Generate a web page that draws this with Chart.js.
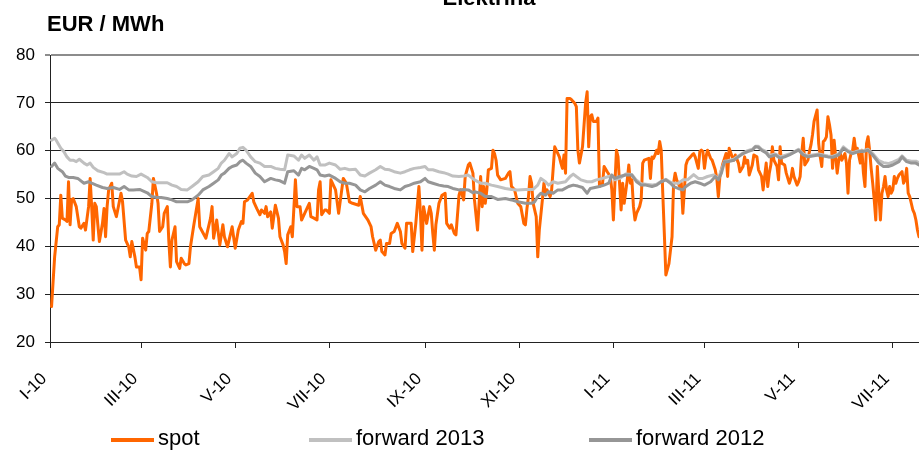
<!DOCTYPE html>
<html>
<head>
<meta charset="utf-8">
<script src="https://cdn.jsdelivr.net/npm/chart.js@4.4.0/dist/chart.umd.min.js"></script>
<style>
body { margin: 0; background: #fff; font-family: 'Liberation Sans', Arial, sans-serif; }
#wrap { position: relative; width: 919px; height: 451px; overflow: hidden; }
#title { position: absolute; left: 389px; width: 200px; top: -13px; line-height: 22px; text-align: center; font-weight: bold; font-size: 22px; }
#unit { position: absolute; left: 47px; top: 13px; line-height: 22px; font-weight: bold; font-size: 22px; }
.lg-line { position: absolute; height: 4px; width: 43px; top: 438px; }
.lg-text { position: absolute; top: 427px; line-height: 22px; font-size: 22px; }
</style>
</head>
<body>
<div id="wrap">
  <canvas id="myChart"></canvas>
  <div id="title">Elektrina</div>
  <div id="unit">EUR / MWh</div>
  <div id="legend"></div>
</div>
<script>
// days since 1 Jan 2010
const tickDays = [0, 59, 120, 181, 243, 304, 365, 424, 485, 546]
const tickLabels = ['I-10', 'III-10', 'V-10', 'VII-10', 'IX-10', 'XI-10', 'I-11', 'III-11', 'V-11', 'VII-11']

const spot = [[1,27.4],[3,37.8],[5,44.1],[6,44.5],[7,50.7],[8,45.9],[10,45.5],[11,45.2],[12,53.5],[13,44.5],[14,49.7],[15,50.0],[17,48.3],[19,44.1],[20,43.8],[22,44.8],[23,43.4],[25,48.3],[26,54.2],[27,48.3],[28,41.3],[29,49.0],[30,48.3],[31,44.5],[32,41.0],[34,44.8],[35,47.9],[36,42.0],[37,48.3],[38,51.8],[40,53.2],[41,48.3],[43,46.2],[46,51.1],[47,49.3],[49,41.3],[51,39.9],[52,37.8],[53,41.0],[55,37.8],[56,35.7],[58,35.7],[59,33.0],[60,41.7],[62,39.2],[63,42.7],[64,43.1],[66,49.0],[67,54.2],[69,51.1],[70,49.0],[71,43.1],[73,44.1],[74,46.9],[76,48.3],[77,41.0],[78,35.7],[79,41.3],[81,44.1],[82,36.8],[84,35.4],[85,37.5],[87,36.4],[88,36.1],[90,36.4],[91,39.9],[93,44.1],[96,50.0],[97,44.1],[101,41.7],[104,45.9],[105,48.3],[106,41.7],[108,45.5],[110,40.3],[112,44.5],[113,42.0],[115,39.9],[118,44.1],[120,39.6],[122,43.4],[124,45.2],[125,44.8],[126,49.3],[128,49.7],[131,51.1],[132,49.3],[134,47.9],[136,46.6],[137,47.6],[139,46.9],[140,48.3],[141,46.2],[143,47.2],[144,43.8],[146,48.6],[148,45.9],[149,42.0],[151,40.3],[152,38.9],[153,36.4],[154,42.4],[156,44.1],[157,42.0],[159,53.9],[160,48.3],[162,48.3],[163,45.5],[165,46.9],[168,49.0],[169,46.2],[171,45.9],[173,45.5],[174,51.8],[175,53.5],[176,46.6],[178,47.6],[179,47.6],[181,46.9],[182,53.9],[185,51.8],[187,46.9],[190,54.2],[192,53.2],[194,49.3],[196,49.0],[200,48.6],[201,50.4],[203,46.9],[206,45.5],[208,44.1],[209,42.0],[211,39.2],[213,41.0],[214,41.3],[215,38.9],[217,38.2],[218,40.6],[220,40.6],[221,42.7],[223,43.1],[225,44.8],[227,43.1],[228,40.6],[230,39.6],[231,44.8],[234,44.8],[235,38.9],[237,44.8],[239,52.5],[240,46.9],[241,39.2],[242,48.3],[244,44.8],[246,48.3],[247,46.9],[248,42.7],[249,39.2],[250,44.5],[252,49.0],[254,50.7],[256,51.1],[257,44.8],[259,43.8],[260,44.5],[262,42.7],[263,42.4],[265,50.7],[266,51.8],[268,49.7],[269,54.6],[271,57.0],[272,57.4],[274,55.3],[275,49.7],[277,43.4],[279,54.6],[280,48.3],[281,52.5],[282,49.0],[283,51.8],[284,56.0],[286,56.3],[287,60.1],[288,59.4],[289,58.0],[290,54.9],[292,53.9],[295,54.2],[297,55.3],[298,55.6],[299,52.5],[301,51.8],[303,49.0],[305,48.3],[307,44.8],[308,44.5],[309,47.9],[310,50.4],[311,54.6],[312,53.2],[313,49.0],[315,46.2],[316,37.8],[317,43.4],[319,49.7],[320,53.2],[321,51.1],[322,51.8],[324,50.4],[325,51.8],[327,60.8],[328,60.1],[330,58.7],[331,57.4],[332,56.3],[333,59.1],[334,55.3],[335,70.9],[337,70.9],[338,70.6],[340,69.9],[341,69.2],[342,60.1],[343,57.4],[345,60.8],[346,65.4],[347,69.9],[348,72.3],[349,60.8],[350,67.1],[351,67.5],[352,66.1],[354,66.1],[355,66.8],[356,52.5],[358,53.2],[359,56.7],[361,55.6],[363,54.6],[364,51.8],[365,45.5],[366,53.2],[367,60.1],[368,58.7],[370,47.6],[371,53.2],[372,49.0],[374,53.9],[375,57.0],[376,53.2],[377,53.9],[378,48.3],[379,45.5],[380,46.9],[382,48.3],[383,49.7],[384,57.4],[385,58.0],[388,58.4],[389,54.2],[390,58.7],[391,58.4],[392,59.1],[393,60.1],[394,59.4],[395,61.9],[396,60.1],[397,51.1],[398,42.7],[399,34.0],[401,36.4],[402,39.2],[403,42.0],[404,53.2],[405,55.3],[406,53.9],[408,52.5],[409,53.2],[410,46.9],[411,51.8],[412,57.0],[413,58.0],[415,58.7],[416,59.1],[417,59.4],[418,58.7],[420,56.3],[421,59.8],[422,60.1],[423,59.8],[424,56.3],[425,58.7],[426,60.1],[428,58.4],[429,58.0],[431,56.0],[432,54.2],[433,50.4],[434,54.6],[436,57.4],[438,59.4],[439,54.6],[440,60.5],[442,58.7],[443,58.0],[444,59.1],[446,57.4],[447,55.6],[449,56.7],[450,58.7],[451,57.4],[452,58.0],[453,54.9],[455,57.0],[456,59.1],[458,58.7],[459,56.0],[460,55.3],[461,54.6],[462,51.8],[463,54.6],[464,57.4],[465,52.5],[466,55.3],[467,57.0],[468,60.8],[469,58.0],[471,56.7],[472,53.9],[473,60.8],[474,57.4],[476,57.0],[477,55.3],[479,53.2],[480,54.2],[481,56.3],[482,54.6],[484,52.8],[485,53.5],[486,54.6],[487,59.4],[488,62.6],[489,57.0],[491,58.0],[492,59.8],[493,61.2],[494,63.3],[495,66.1],[497,68.5],[498,61.5],[499,58.7],[500,56.7],[501,61.9],[502,62.2],[503,62.9],[504,67.1],[505,65.4],[506,63.3],[507,56.3],[508,62.2],[510,55.3],[511,58.0],[512,59.4],[513,58.0],[515,59.4],[516,57.4],[517,51.1],[518,58.0],[519,59.4],[520,60.1],[521,62.6],[522,60.1],[523,60.5],[525,57.4],[526,60.1],[527,55.3],[528,52.5],[529,61.5],[530,62.9],[531,60.1],[532,56.3],[533,53.2],[534,49.7],[535,45.5],[536,56.7],[538,45.5],[539,51.1],[540,52.5],[541,54.6],[542,51.8],[543,50.4],[544,52.5],[545,51.1],[546,51.8],[547,54.6],[548,53.2],[549,54.2],[550,54.9],[552,55.6],[553,53.2],[554,53.9],[555,56.3],[556,51.1],[557,50.4],[558,49.0],[559,47.6],[560,46.9],[561,45.5],[562,43.4],[563,42.0]]

const forward2013 = [[1,62.2],[3,62.6],[4,62.2],[7,60.5],[9,59.8],[11,58.7],[13,58.0],[15,58.0],[17,57.7],[19,58.2],[22,57.4],[24,57.0],[26,57.4],[28,56.5],[31,55.8],[35,55.4],[37,55.1],[41,55.1],[45,55.1],[48,55.6],[50,55.1],[53,54.7],[56,54.6],[59,55.1],[63,54.4],[66,53.5],[69,53.3],[72,53.3],[76,53.3],[79,52.8],[82,52.5],[85,51.9],[89,51.8],[92,52.5],[96,53.5],[99,54.6],[103,54.9],[106,55.6],[109,56.3],[111,57.4],[113,58.0],[116,59.4],[118,58.7],[121,59.4],[123,60.5],[125,60.7],[127,60.1],[130,58.7],[133,57.7],[136,57.4],[139,56.7],[143,56.7],[146,56.3],[149,56.1],[152,56.0],[154,59.1],[158,58.9],[161,58.0],[163,59.1],[165,58.4],[168,59.1],[171,58.0],[173,58.7],[175,57.0],[178,57.0],[181,57.4],[185,57.0],[188,56.1],[191,56.3],[194,56.0],[198,56.1],[201,54.9],[204,54.7],[207,55.3],[211,56.0],[214,56.7],[217,56.1],[220,56.0],[223,55.6],[227,55.3],[230,55.6],[233,56.0],[236,56.3],[240,56.5],[243,56.7],[245,56.0],[248,56.0],[252,55.6],[255,55.4],[258,55.1],[261,54.7],[265,54.6],[268,54.7],[271,54.9],[275,53.9],[279,53.2],[282,53.2],[286,52.8],[290,52.5],[295,52.1],[299,51.9],[303,51.8],[308,51.9],[313,51.9],[316,52.8],[318,54.2],[321,53.5],[323,52.8],[326,53.5],[329,53.2],[334,53.5],[337,54.6],[339,55.1],[341,54.6],[344,53.9],[348,53.5],[351,53.5],[354,53.9],[358,54.2],[362,54.6],[364,54.9],[366,53.9],[369,54.2],[373,55.1],[377,55.0],[380,53.8],[383,53.1],[386,53.0],[390,52.8],[393,53.0],[396,53.6],[399,54.0],[402,53.4],[404,53.2],[407,53.2],[410,53.9],[413,53.9],[417,55.0],[420,54.2],[423,54.2],[426,54.6],[430,54.9],[433,54.2],[435,56.0],[437,57.8],[439,57.9],[443,58.2],[446,58.9],[449,59.5],[452,60.0],[455,60.3],[457,60.9],[459,60.9],[461,60.3],[464,59.8],[466,59.0],[470,59.3],[473,58.7],[476,59.0],[479,59.3],[483,59.9],[485,60.3],[488,59.3],[491,58.9],[494,59.1],[498,59.3],[501,59.1],[504,58.9],[507,58.8],[511,59.3],[514,60.8],[517,60.0],[520,59.6],[524,60.0],[527,60.0],[530,60.3],[533,59.4],[537,57.9],[540,57.5],[543,57.3],[546,57.6],[550,58.2],[552,58.9],[555,58.0],[558,57.8],[561,57.8],[563,57.5]]

const forward2012 = [[1,56.7],[3,57.4],[5,56.3],[8,55.6],[10,54.7],[12,54.4],[15,54.4],[18,54.2],[22,53.2],[25,53.5],[27,53.2],[30,52.8],[34,52.3],[37,52.1],[41,52.3],[45,51.9],[48,52.5],[51,51.8],[54,51.8],[58,51.9],[63,51.2],[66,50.4],[69,50.2],[72,50.2],[76,50.0],[79,49.7],[82,49.3],[85,49.3],[89,49.3],[92,49.7],[96,50.7],[99,51.8],[103,52.5],[106,53.2],[109,53.9],[111,54.9],[113,55.3],[116,56.3],[118,56.7],[121,57.0],[123,57.7],[125,58.0],[127,57.4],[130,56.7],[133,55.3],[136,54.6],[139,53.5],[143,54.2],[146,53.9],[149,53.7],[152,53.2],[154,55.6],[158,55.8],[161,54.9],[163,56.3],[165,56.0],[168,56.7],[171,56.3],[173,56.0],[175,54.9],[178,54.7],[181,54.9],[185,54.2],[188,53.5],[191,53.2],[194,53.2],[198,52.8],[201,51.8],[204,51.4],[207,52.1],[211,52.8],[214,53.5],[217,52.8],[220,52.5],[223,52.1],[227,51.8],[230,52.5],[233,52.8],[236,53.2],[240,53.5],[243,54.2],[245,53.5],[248,53.2],[252,52.8],[255,52.6],[258,52.5],[261,52.1],[265,51.8],[268,51.9],[271,51.8],[274,51.2],[275,51.4],[279,51.1],[282,50.4],[286,50.4],[290,49.8],[295,50.0],[299,49.7],[303,49.3],[308,49.0],[312,49.0],[314,49.3],[316,50.4],[318,51.1],[321,50.7],[323,51.4],[326,51.1],[329,51.8],[332,51.8],[336,52.5],[339,52.8],[342,52.6],[345,52.3],[348,51.1],[350,52.1],[353,52.3],[356,52.5],[359,52.8],[362,53.2],[364,54.9],[366,54.2],[369,54.6],[373,54.9],[377,54.9],[380,53.5],[383,52.8],[386,52.8],[390,52.5],[393,52.8],[396,53.5],[399,53.9],[402,53.2],[404,52.5],[407,52.1],[410,51.8],[412,52.5],[415,53.2],[418,53.5],[421,53.2],[424,52.8],[428,53.5],[431,54.6],[433,53.9],[435,55.3],[437,57.7],[439,57.7],[443,58.0],[446,58.7],[449,59.4],[452,59.8],[455,60.1],[457,60.8],[459,60.7],[461,60.1],[464,59.5],[466,58.7],[470,59.1],[473,58.4],[476,58.7],[479,59.1],[483,59.8],[485,60.1],[488,59.1],[491,58.7],[494,58.9],[498,59.1],[501,58.9],[504,58.7],[507,58.6],[511,59.1],[514,60.5],[517,59.8],[520,59.4],[524,59.8],[527,59.8],[530,60.1],[533,59.1],[537,57.4],[540,56.7],[543,56.7],[546,57.0],[550,57.7],[552,58.7],[555,57.7],[558,57.4],[561,57.4],[563,57.0]]

const toPoints = (arr) => arr.map(([d, v]) => ({ x: d, y: v }))
const font = { family: "'Liberation Sans', Arial, sans-serif", size: 17 }

const ctx = document.getElementById('myChart')
const chart = new Chart(ctx, {
    type: 'line',
    data: {
        datasets: [
            { label: 'spot', data: toPoints(spot), borderColor: '#ff6600', backgroundColor: '#ff6600', order: 3 },
            { label: 'forward 2013', data: toPoints(forward2013), borderColor: '#c0c0c0', backgroundColor: '#c0c0c0', order: 2 },
            { label: 'forward 2012', data: toPoints(forward2012), borderColor: '#969696', backgroundColor: '#969696', order: 1 },
        ],
    },
    options: {
        responsive: true,
        maintainAspectRatio: false,
        animation: false,
        elements: {
            point: { radius: 0 },
            line: { borderWidth: 3, tension: 0, borderJoinStyle: 'round', borderCapStyle: 'round' },
        },
        layout: { padding: { top: 55, left: 0, right: 0, bottom: 0 } },
        plugins: { legend: { display: false }, tooltip: { enabled: false } },
        scales: {
            x: {
                type: 'linear',
                min: 0,
                max: 563,
                afterBuildTicks: (scale) => { scale.ticks = tickDays.map((v) => ({ value: v })) },
                afterFit: (scale) => {
                    scale.height = 109
                    scale.paddingLeft = 0
                    scale.paddingRight = 0
                },
                grid: { drawOnChartArea: false, drawTicks: true, tickLength: 6, color: '#222' },
                border: { color: '#222', width: 1 },
                ticks: {
                    autoSkip: false,
                    minRotation: 45,
                    maxRotation: 45,
                    padding: 21,
                    labelOffset: -6,
                    color: '#000',
                    font: font,
                    callback: (v) => tickLabels[tickDays.indexOf(v)],
                },
            },
            y: {
                min: 20,
                max: 80,
                afterFit: (scale) => { scale.width = 50 },
                grid: {
                    color: (c) => (c.tick && c.tick.value === 80 ? '#8c8c8c' : '#222'),
                    lineWidth: (c) => (c.tick && c.tick.value === 80 ? 2 : 1),
                    tickLength: 5,
                },
                border: { color: '#222', width: 1 },
                ticks: { stepSize: 10, padding: 10, color: '#000', font: font },
            },
        },
    },
})

// legend built from the datasets, in their original order
const legendLeft = [111, 309, 589]
const legend = document.getElementById('legend')
chart.data.datasets.forEach((ds, i) => {
    const line = document.createElement('div')
    line.className = 'lg-line'
    line.style.left = legendLeft[i] + 'px'
    line.style.background = ds.borderColor
    const text = document.createElement('div')
    text.className = 'lg-text'
    text.style.left = (legendLeft[i] + 47) + 'px'
    text.textContent = ds.label
    legend.appendChild(line)
    legend.appendChild(text)
})
</script>
</body>
</html>
